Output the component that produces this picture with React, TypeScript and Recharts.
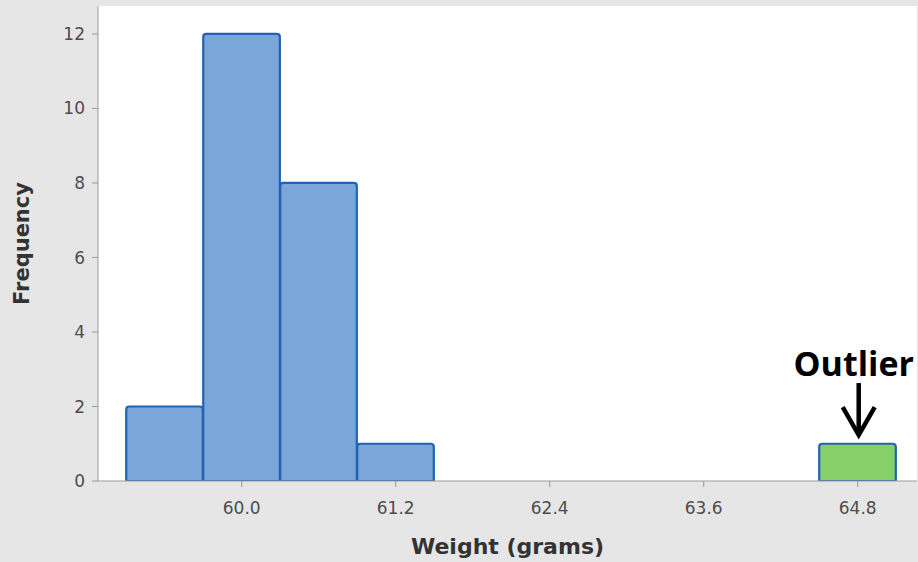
import React from 'react';
import { BarChart, Bar, XAxis, YAxis, Cell, CartesianGrid, ReferenceDot, Label } from 'recharts';

// histogram bins (centre of each 0.6 g bin) and their counts
const binCenters = [59.4, 60.0, 60.6, 61.2, 61.8, 62.4, 63.0, 63.6, 64.2, 64.8];
const counts = [2, 12, 8, 1, 0, 0, 0, 0, 0, 1];
const outlierBins = [64.8];

const xTicks = [60.0, 61.2, 62.4, 63.6, 64.8];
const yTicks = [0, 2, 4, 6, 8, 10, 12];
const xDomain = [58.88, 65.262];
const yDomain = [0, 12.75];
const binWidth = 0.6;

const annotation = { x: 64.8, y: 1.18, text: 'Outlier' };

const data = binCenters.map((bin, i) => ({ bin, count: counts[i] }));

const W = 918;
const H = 562;
const LEFT = 98;
const RIGHT = 1;
const plotW = W - LEFT - RIGHT;
// a hair under the band so recharts doesn't shrink the bars to 90%
const barPx = ((binWidth * plotW) / (xDomain[1] - xDomain[0])) * 0.995;

const FONT = '"DejaVu Sans", sans-serif';
const AXIS = '#9b9b9b';

const ArrowLabel = (props: any) => {
  const { cx, cy } = props;
  if (cx == null || cy == null) return null;
  return (
    <g>
      <text
        x={cx - 4}
        y={cy - 61}
        textAnchor="middle"
        fontFamily='"Open Sans", sans-serif'
        fontWeight={700}
        fontSize={34}
        fill="#000"
      >
        {annotation.text}
      </text>
      <line x1={cx + 1} y1={cy - 54} x2={cx + 1} y2={cy - 3} stroke="#000" strokeWidth={4.5} />
      <polyline
        points={`${cx - 15},${cy - 30} ${cx + 1},${cy - 2} ${cx + 17},${cy - 30}`}
        fill="none"
        stroke="#000"
        strokeWidth={4.5}
      />
    </g>
  );
};

export default function App() {
  return (
    <div style={{ position: 'absolute', left: 0, top: 0, width: W, height: H, background: '#e6e6e6' }}>
      <BarChart
        width={W}
        height={H}
        data={data}
        margin={{ top: 6, right: RIGHT, left: 0, bottom: 0 }}
        barCategoryGap={0}
        barGap={0}
      >
        <CartesianGrid horizontal={false} vertical={false} fill="#ffffff" stroke={AXIS} />
        <XAxis
          dataKey="bin"
          type="number"
          domain={xDomain}
          allowDataOverflow
          ticks={xTicks}
          tickFormatter={(v: number) => v.toFixed(1)}
          height={81}
          tickSize={6}
          tickMargin={15}
          stroke={AXIS}
          tick={{ fill: '#4d4d4d', fontSize: 17, fontFamily: FONT }}
        >
          <Label
            value="Weight (grams)"
            position="insideBottom"
            offset={8}
            style={{ fill: '#333', fontSize: 22, fontWeight: 700, fontFamily: FONT }}
          />
        </XAxis>
        <XAxis xAxisId="top" orientation="top" type="number" domain={xDomain} height={0} tick={false} tickLine={false} stroke={AXIS} />
        <YAxis
          domain={yDomain}
          ticks={yTicks}
          allowDataOverflow
          width={LEFT}
          tickSize={6}
          tickMargin={7}
          stroke={AXIS}
          tick={{ fill: '#4d4d4d', fontSize: 17, fontFamily: FONT }}
        >
          <Label
            value="Frequency"
            angle={-90}
            position="insideLeft"
            offset={22}
            style={{ textAnchor: 'middle', fill: '#333', fontSize: 21, fontWeight: 700, fontFamily: FONT }}
          />
        </YAxis>
        <YAxis yAxisId="right" orientation="right" domain={yDomain} width={0} tick={false} tickLine={false} stroke={AXIS} />
        <Bar dataKey="count" barSize={barPx} stroke="#2163b0" strokeWidth={2.2} radius={[3, 3, 0, 0]} isAnimationActive={false}>
          {data.map((d, i) => (
            <Cell key={i} fill={outlierBins.includes(d.bin) ? '#86cf69' : '#7ba6da'} />
          ))}
        </Bar>
        <ReferenceDot x={annotation.x} y={annotation.y} shape={ArrowLabel} ifOverflow="visible" />
      </BarChart>
    </div>
  );
}
